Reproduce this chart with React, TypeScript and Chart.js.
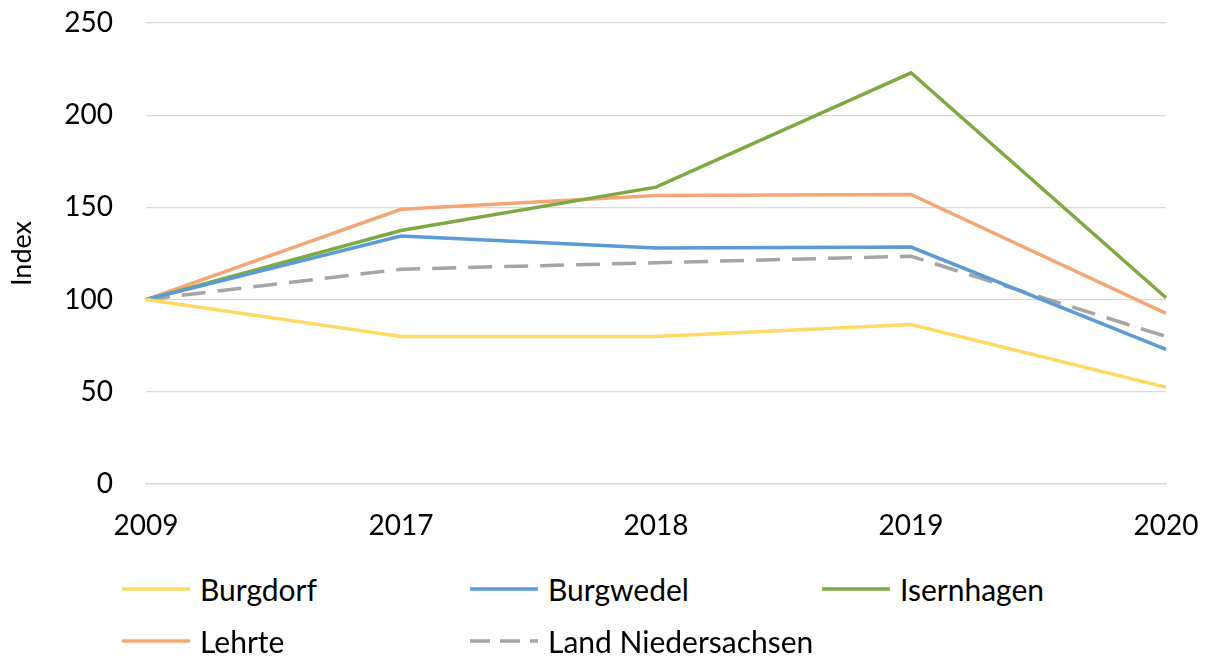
import React, { useEffect, useRef } from "react";
import { Chart, registerables } from "chart.js";

Chart.register(...registerables);

const categories = ["2009", "2017", "2018", "2019", "2020"];
const burgdorf = [100, 80, 80, 86.5, 52.5];
const burgwedel = [100, 134.5, 128, 128.5, 73];
const isernhagen = [100, 137.5, 161, 223, 101];
const lehrte = [100, 149, 156.5, 157, 92.5];
const landNds = [100, 116.5, 120, 123.5, 80];
const yMin = 0;
const yMax = 250;
const yStep = 50;

const FONT = "Lato, 'Open Sans', sans-serif";

const series = [
  { label: "Burgdorf", data: burgdorf, color: "#FFD966", dash: [] as number[] },
  { label: "Burgwedel", data: burgwedel, color: "#5B9BD5", dash: [] as number[] },
  { label: "Isernhagen", data: isernhagen, color: "#7FA843", dash: [] as number[] },
  { label: "Lehrte", data: lehrte, color: "#F4A776", dash: [] as number[] },
  { label: "Land Niedersachsen", data: landNds, color: "#A5A5A5", dash: [24, 12] },
];

const legendPos = [
  { left: 122, top: 570 },
  { left: 470, top: 570 },
  { left: 822, top: 570 },
  { left: 122, top: 622 },
  { left: 470, top: 622 },
];

export default function App() {
  const ref = useRef<HTMLCanvasElement>(null);
  useEffect(() => {
    if (!ref.current) return;
    const chart = new Chart(ref.current, {
      type: "line",
      data: {
        labels: categories,
        datasets: series.map((s) => ({
          label: s.label,
          data: s.data,
          borderColor: s.color,
          backgroundColor: s.color,
          borderWidth: 3.5,
          borderDash: s.dash,
          pointRadius: 0,
          tension: 0,
          fill: false,
        })),
      },
      options: {
        responsive: false,
        animation: false,
        layout: { autoPadding: false, padding: { top: 23, right: 43, left: 0, bottom: 0 } },
        plugins: { legend: { display: false }, tooltip: { enabled: false } },
        scales: {
          x: {
            offset: false,
            grid: { display: false, drawTicks: false },
            border: { display: true, color: "#D9D9D9", width: 1.5 },
            ticks: { color: "#000", font: { family: FONT, size: 28 }, padding: 25, maxRotation: 0 },
            afterFit: (s: any) => { s.height = 56; s.paddingLeft = 0; s.paddingRight = 0; },
          },
          y: {
            min: yMin,
            max: yMax,
            grid: { color: "#D9D9D9", lineWidth: 1.2, drawTicks: false },
            border: { display: false },
            ticks: { stepSize: yStep, color: "#000", font: { family: FONT, size: 28 }, padding: 33 },
            title: { display: true, text: "Index", color: "#000", font: { family: FONT, size: 27 }, padding: { top: 6, bottom: 0 } },
            afterFit: (s: any) => { s.width = 146; s.paddingTop = 0; s.paddingBottom = 0; },
          },
        },
      },
    });
    return () => chart.destroy();
  }, []);
  return (
    <div style={{ position: "fixed", left: 0, top: 0, width: 1209, height: 657, background: "#fff", fontFamily: FONT }}>
      <canvas ref={ref} width={1209} height={540} style={{ position: "absolute", left: 0, top: 0 }} />
      {series.map((s, i) => (
        <div key={s.label} style={{ position: "absolute", left: legendPos[i].left, top: legendPos[i].top, height: 38, display: "flex", alignItems: "center", whiteSpace: "nowrap" }}>
          <svg width={68} height={6} style={{ marginRight: 10 }}>
            <line x1={0} y1={3} x2={68} y2={3} stroke={s.color} strokeWidth={3.5} strokeDasharray={s.dash.length ? "20 10" : undefined} />
          </svg>
          <span style={{ fontSize: 30, color: "#000" }}>{s.label}</span>
        </div>
      ))}
    </div>
  );
}
